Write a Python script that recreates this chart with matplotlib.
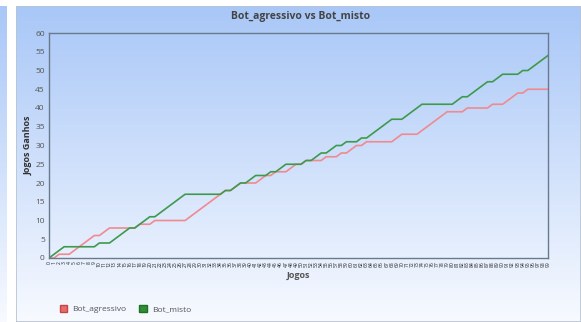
import matplotlib.pyplot as plt
import matplotlib.patches as patches
import numpy as np

plt.rcParams['font.family'] = ['Open Sans', 'DejaVu Sans']

jogos = list(range(100))

# vitorias acumuladas de cada bot, jogo a jogo
bot_agressivo = [0, 0, 1, 1, 1, 2, 3, 4, 5, 6,
                 6, 7, 8, 8, 8, 8, 8, 8, 9, 9,
                 9, 10, 10, 10, 10, 10, 10, 10, 11, 12,
                 13, 14, 15, 16, 17, 18, 18, 19, 20, 20,
                 20, 20, 21, 22, 22, 23, 23, 23, 24, 25,
                 25, 26, 26, 26, 26, 27, 27, 27, 28, 28,
                 29, 30, 30, 31, 31, 31, 31, 31, 31, 32,
                 33, 33, 33, 33, 34, 35, 36, 37, 38, 39,
                 39, 39, 39, 40, 40, 40, 40, 40, 41, 41,
                 41, 42, 43, 44, 44, 45, 45, 45, 45, 45]
bot_misto = [0, 1, 2, 3, 3, 3, 3, 3, 3, 3,
             4, 4, 4, 5, 6, 7, 8, 8, 9, 10,
             11, 11, 12, 13, 14, 15, 16, 17, 17, 17,
             17, 17, 17, 17, 17, 18, 18, 19, 20, 20,
             21, 22, 22, 22, 23, 23, 24, 25, 25, 25,
             25, 26, 26, 27, 28, 28, 29, 30, 30, 31,
             31, 31, 32, 32, 33, 34, 35, 36, 37, 37,
             37, 38, 39, 40, 41, 41, 41, 41, 41, 41,
             41, 42, 43, 43, 44, 45, 46, 47, 47, 48,
             49, 49, 49, 49, 50, 50, 51, 52, 53, 54]

fig = plt.figure(figsize=(5.81, 3.22), dpi=100)
fig.patch.set_facecolor('white')

# fundo em degrade azul do painel
grad = np.linspace(0, 1, 256).reshape(-1, 1)
top = np.array([0.66, 0.78, 0.97])
bottom = np.array([0.97, 0.98, 1.0])
img = top + (bottom - top) * grad[..., None] * np.ones((1, 1, 3))
img = np.clip(img, 0, 1)

bg = fig.add_axes([16 / 581, 0, 1 - 16 / 581, 316 / 322])
bg.imshow(img, aspect='auto', extent=[0, 1, 0, 1])
bg.set_axis_off()
bg.add_patch(patches.Rectangle((0, 0), 1, 1, transform=bg.transAxes,
                               fill=False, edgecolor='#b8c4d2', lw=1.2))

side = fig.add_axes([0, 0, 6 / 581, 316 / 322])
side.imshow(img, aspect='auto', extent=[0, 1, 0, 1])
side.set_axis_off()

ax = fig.add_axes([49 / 581, 1 - 258 / 322, 499 / 581, 225 / 322])
ax.patch.set_alpha(0)
ax.plot(jogos, bot_agressivo, color='#f08a8e', lw=1.2, label='Bot_agressivo')
ax.plot(jogos, bot_misto, color='#3d9a4c', lw=1.2, label='Bot_misto')

ax.set_xlim(0, 99)
ax.set_ylim(0, 60)
ax.set_yticks(range(0, 61, 5))
ax.set_xticks(jogos)
ax.set_xticklabels([str(j) for j in jogos], rotation=90, fontsize=3.6, color='#222222')
ax.tick_params(axis='y', labelsize=6, colors='#555555', length=0, pad=3)
ax.tick_params(axis='x', length=0, pad=2)
for s in ax.spines.values():
    s.set_color('#6a7a8e')
    s.set_linewidth(1.0)

ax.set_xlabel('Jogos', fontsize=6.5, fontweight='bold', color='#555555', labelpad=3)
ax.set_ylabel('Jogos Ganhos', fontsize=6.5, fontweight='bold', color='#333333', labelpad=2)
fig.text(0.517, 1 - 17 / 322, 'Bot_agressivo vs Bot_misto', ha='center', va='center',
         fontsize=7.5, fontweight='bold', color='#444444')

handles = [patches.Patch(facecolor='#e86a6a', edgecolor='#c04848', label='Bot_agressivo'),
           patches.Patch(facecolor='#2f8f35', edgecolor='#1f6f25', label='Bot_misto')]
fig.legend(handles=handles, loc='center left', bbox_to_anchor=(52 / 581, 1 - 309 / 322),
           ncol=2, frameon=False, fontsize=6, handlelength=0.9, handleheight=0.9,
           handletextpad=0.6, columnspacing=1.6, labelcolor='#555555')

fig.savefig('out.png', dpi=100)
